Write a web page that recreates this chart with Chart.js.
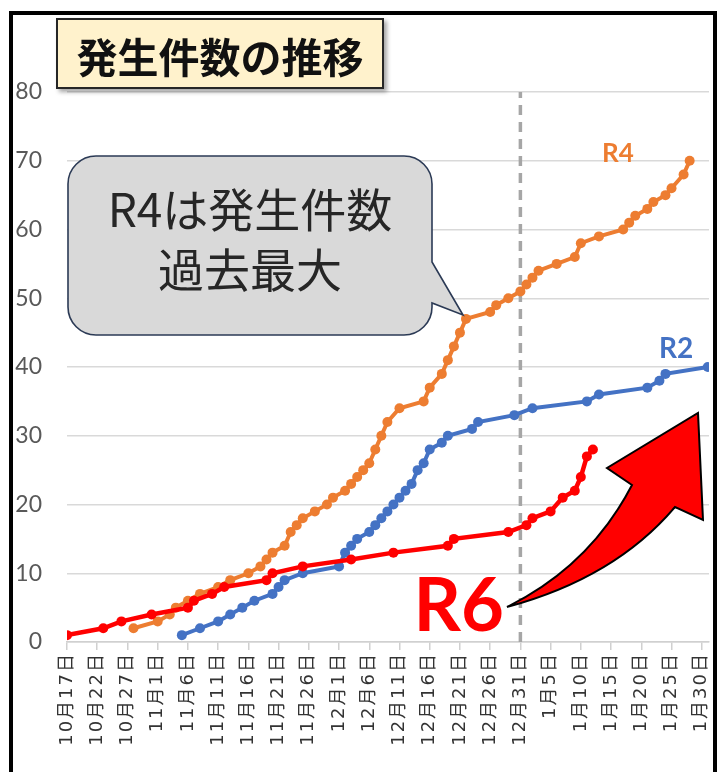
<!DOCTYPE html>
<html lang="ja">
<head>
<meta charset="utf-8">
<script src="https://cdn.jsdelivr.net/npm/chart.js@4"></script>
<style>
  body { margin: 0; width: 720px; height: 772px; overflow: hidden; background: #fff; position: relative; }
  #c { position: absolute; left: 0; top: 0; }
  .frame { position: absolute; left: 9px; top: 11px; width: 700px; height: 800px; border: 4px solid #000; pointer-events: none; }
  svg { position: absolute; left: 0; top: 0; }
</style>
</head>
<body>
<canvas id="c" width="720" height="772"></canvas>
<div class="frame"></div>
<svg width="720" height="772" viewBox="0 0 720 772">
  <defs>
    <filter id="sh" x="-5%" y="-5%" width="115%" height="130%">
      <feDropShadow dx="3" dy="3" stdDeviation="2" flood-color="#000" flood-opacity="0.35"/>
    </filter>
  </defs>
  <!-- title -->
  <rect x="57" y="19" width="326" height="69" fill="#FFF2CC" stroke="#262626" stroke-width="2" filter="url(#sh)"/>
  <text x="220" y="55" text-anchor="middle" dominant-baseline="central"
        font-family="'Noto Sans CJK JP'" font-weight="700" font-size="41" fill="#111">発生件数の推移</text>
  <!-- callout -->
  <path d="M96 156 H404 A28 28 0 0 1 432 184 V262 L463 315 L432 303 V307 A28 28 0 0 1 404 335 H96 A28 28 0 0 1 68 307 V184 A28 28 0 0 1 96 156 Z"
        fill="#D9D9D9" stroke="#2B3A55" stroke-width="1.6"/>
  <text x="250" y="207" text-anchor="middle" dominant-baseline="central"
        font-family="'Noto Sans CJK JP'" font-size="46" fill="#262626">R4は発生件数</text>
  <text x="250" y="267" text-anchor="middle" dominant-baseline="central"
        font-family="'Noto Sans CJK JP'" font-size="46" fill="#262626">過去最大</text>
  <!-- series labels -->
  <text x="602" y="162" font-family="Lato" font-weight="700" font-size="26" fill="#ED7D31">R4</text>
  <text x="659" y="358" font-family="Lato" font-weight="700" font-size="28" fill="#4472C4">R2</text>
  <text x="504" y="631" text-anchor="end" font-family="Lato" font-weight="700" font-size="74" fill="#FF0000">R6</text>
  <!-- arrow -->
  <path d="M507 607 Q615 578 675 507 L703 520 L698 413 L607 468 L632 485 Q590 566 507 607 Z"
        fill="#FF0000" stroke="#000" stroke-width="2" stroke-linejoin="miter"/>
</svg>
<script>
// days counted from 10/17
const dateLabels = ['10月17日', '10月22日', '10月27日', '11月1日', '11月6日', '11月11日', '11月16日',
    '11月21日', '11月26日', '12月1日', '12月6日', '12月11日', '12月16日', '12月21日', '12月26日',
    '12月31日', '1月5日', '1月10日', '1月15日', '1月20日', '1月25日', '1月30日'];
const yTicks = [0, 10, 20, 30, 40, 50, 60, 70, 80];

const r6Days = [0, 6, 9, 14, 20, 21, 24, 26, 33, 34, 39, 47, 54, 63, 64, 73, 76, 77, 80, 82, 84, 85, 86, 87];
const r6Vals = [1, 2, 3, 4, 5, 6, 7, 8, 9, 10, 11, 12, 13, 14, 15, 16, 17, 18, 19, 21, 22, 24, 27, 28];

const r4Days = [11, 15, 17, 18, 20, 22, 25, 27, 30, 32, 33, 34, 36, 37, 38, 39, 41, 43, 44, 46, 47, 48, 49, 50,
    51, 52, 53, 55, 59, 60, 62, 63, 64, 65, 66, 70, 71, 73, 75, 76, 77, 78, 81, 84, 85, 88, 92, 93, 94,
    96, 97, 99, 100, 102, 103];
const r4Vals = [2, 3, 4, 5, 6, 7, 8, 9, 10, 11, 12, 13, 14, 16, 17, 18, 19, 20, 21, 22, 23, 24, 25, 26,
    28, 30, 32, 34, 35, 37, 39, 41, 43, 45, 47, 48, 49, 50, 51, 52, 53, 54, 55, 56, 58, 59, 60, 61, 62,
    63, 64, 65, 66, 68, 70];

const r2Days = [19, 22, 25, 27, 29, 31, 34, 35, 36, 39, 45, 46, 47, 48, 50, 51, 52, 53, 54, 55, 56, 57, 58,
    59, 60, 62, 63, 67, 68, 74, 77, 86, 88, 96, 98, 99, 106];
const r2Vals = [1, 2, 3, 4, 5, 6, 7, 8, 9, 10, 11, 13, 14, 15, 16, 17, 18, 19, 20, 21, 22, 23, 25,
    26, 28, 29, 30, 31, 32, 33, 34, 35, 36, 37, 38, 39, 40];

const dividerDay = 75; // 12/31
const dividerRange = [0, 80];

const pts = (xs, ys) => xs.map((x, i) => ({ x: x, y: ys[i] }));

function lineSet(label, xs, ys, color, width) {
    return {
        label: label,
        data: pts(xs, ys),
        borderColor: color,
        backgroundColor: color,
        borderWidth: width,
        pointRadius: 5,
        pointBorderWidth: 0,
        pointBackgroundColor: color,
        tension: 0
    };
}

new Chart(document.getElementById('c'), {
    type: 'line',
    data: {
        datasets: [
            lineSet('R6', r6Days, r6Vals, '#FF0000', 4.5),
            lineSet('R2', r2Days, r2Vals, '#4472C4', 4),
            lineSet('R4', r4Days, r4Vals, '#ED7D31', 4),
            {
                label: 'divider',
                data: dividerRange.map(v => ({ x: dividerDay, y: v })),
                borderColor: '#A6A6A6',
                borderWidth: 3.5,
                borderDash: [10, 7],
                pointRadius: 0
            }
        ]
    },
    options: {
        responsive: false,
        animation: false,
        devicePixelRatio: 1,
        layout: { padding: { left: 0, right: 11, top: 92, bottom: 0 } },
        plugins: { legend: { display: false }, tooltip: { enabled: false } },
        scales: {
            x: {
                type: 'linear',
                min: 0,
                max: 106.2,
                afterBuildTicks: s => { s.ticks = dateLabels.map((_, i) => ({ value: i * 5 })); },
                afterFit: s => { s.height = 130; s.paddingLeft = 0; s.paddingRight = 0; },
                afterUpdate: s => {
                    if (s._spaced) return;
                    const orig = s.drawLabels.bind(s);
                    s.drawLabels = area => {
                        const c = s.ctx;
                        c.save();
                        c.letterSpacing = '2px';
                        orig(area);
                        c.restore();
                    };
                    s._spaced = true;
                },
                grid: { drawOnChartArea: false, drawTicks: true, tickLength: 8, color: '#D0D0D0', lineWidth: 1.5 },
                border: { color: '#D0D0D0', width: 1.5 },
                ticks: {
                    autoSkip: false,
                    minRotation: 90,
                    maxRotation: 90,
                    padding: 2,
                    color: '#333',
                    font: { family: "'DejaVu Sans', 'Noto Sans CJK JP'", size: 18 },
                    callback: v => dateLabels[Math.round(v / 5)]
                }
            },
            y: {
                min: 0,
                max: 80,
                afterBuildTicks: s => { s.ticks = yTicks.map(v => ({ value: v })); },
                afterFit: s => { s.width = 67; },
                grid: { color: '#D9D9D9', lineWidth: 1.5, drawTicks: false },
                border: { display: false },
                ticks: {
                    padding: 25,
                    color: '#595959',
                    font: { family: 'Lato', size: 23 }
                }
            }
        }
    }
});
</script>
</body>
</html>
